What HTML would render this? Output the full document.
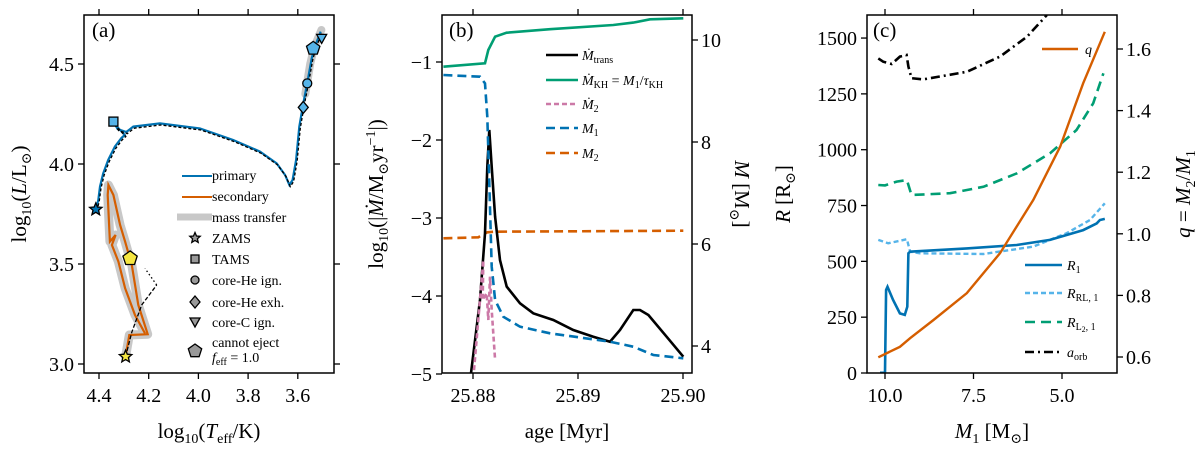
<!DOCTYPE html>
<html><head><meta charset="utf-8"><style>
body{margin:0;background:#fff}
svg{display:block;font-family:"Liberation Serif","DejaVu Serif",serif}
.tk{font-size:20px;fill:#000}
.lab{font-size:21px;fill:#000}
.lg{font-size:14px;fill:#000}
</style></head><body>
<svg id="fig" width="1200" height="450" viewBox="0 0 1200 450" xmlns="http://www.w3.org/2000/svg">
<g id="pa"></g>
<g id="pb"></g>
<g id="pc"></g>
</svg>
<script>
// ---------- Panel (a) data ----------
const priT=[4.413,4.403,4.396,4.383,4.363,4.336,4.31,4.296,4.33,4.342,4.325,4.29,4.262,4.155,3.994,3.86,3.752,3.685,3.651,3.634,3.621,3.607,3.594,3.578,3.562,3.544,3.531,3.508];
const priL=[3.773,3.82,3.887,3.953,4.02,4.087,4.13,4.145,4.19,4.212,4.175,4.16,4.187,4.203,4.178,4.12,4.062,4.003,3.945,3.895,3.92,4.02,4.187,4.303,4.403,4.528,4.587,4.662];
const secT=[4.293,4.278,4.204,4.242,4.268,4.295,4.315,4.342,4.362,4.365,4.356,4.333,4.348,4.322,4.295,4.255,4.215];
const secL=[3.037,3.145,3.149,3.295,3.495,3.612,3.695,3.845,3.895,3.845,3.612,3.645,3.595,3.512,3.379,3.245,3.153];
const cmpT=[4.293,4.268,4.228,4.168];
const cmpL=[3.037,3.159,3.295,3.395];
const cmpDotT=[4.168,4.215];
const cmpDotL=[3.395,3.478];
const mtT=[3.57,3.55,3.535,3.515,3.505];
const mtL=[4.35,4.5,4.58,4.64,4.67];
const aXTicks=[4.4,4.2,4.0,3.8,3.6];
const aYTicks=[3.0,3.5,4.0,4.5];
// ---------- Panel (b) data ----------
const khAge=[25.87718,25.88114,25.88146,25.8821,25.88321,25.88733,25.89336,25.89527,25.89686,25.90003];
const khVal=[-1.06,-1.017,-0.846,-0.676,-0.624,-0.58,-0.526,-0.495,-0.453,-0.44];
const trAge=[25.87981,25.88067,25.88114,25.88136,25.88155,25.88178,25.8821,25.88257,25.88321,25.88448,25.88574,25.88765,25.88955,25.89146,25.89305,25.894,25.89527,25.8959,25.8967,25.89844,25.90003];
const trVal=[-4.99,-4.05,-3.196,-2.342,-1.87,-2.342,-2.983,-3.54,-3.88,-4.094,-4.222,-4.308,-4.436,-4.522,-4.586,-4.436,-4.18,-4.18,-4.244,-4.522,-4.778];
const m2dAge=[25.8801,25.88067,25.88098,25.88092,25.8813,25.88146,25.88162,25.88178,25.8821];
const m2dVal=[-4.95,-4.05,-3.54,-4.05,-3.966,-4.308,-3.752,-4.18,-4.82];
const m1Age=[25.87718,25.88067,25.88114,25.88136,25.88155,25.88178,25.8821,25.88289,25.88448,25.88733,25.89305,25.89527,25.89717,25.90003];
const m1Val=[9.314,9.28,9.15,8.496,7.19,5.555,4.902,4.575,4.378,4.249,4.085,3.986,3.824,3.758];
const m2Age=[25.87718,25.8805,25.88136,25.8821,25.90003];
const m2Val=[6.112,6.131,6.229,6.241,6.261];
const bXTicks=[25.88,25.89,25.90];
const bYTicks=[-5,-4,-3,-2,-1];
const bY2Ticks=[4,6,8,10];
// ---------- Panel (c) data ----------
const r1M=[10.14,10.0,9.97,9.93,9.77,9.58,9.44,9.37,9.34,9.29,7.69,6.28,5.34,4.4,4.02,3.93,3.79];
const r1R=[1,1,372,386,327,267,260,297,536,543,558,573,596,640,670,685,690];
const rlM=[10.19,9.91,9.38,9.29,9.01,7.22,5.81,4.87,4.21,3.79];
const rlR=[596,581,599,543,536,533,566,626,685,760];
const l2M=[10.19,10.0,9.67,9.38,9.25,8.16,7.22,6.28,5.34,4.59,4.12,3.83];
const l2R=[842,840,857,864,797,805,834,894,984,1088,1208,1342];
const aoM=[10.19,10.05,9.81,9.58,9.39,9.34,9.25,8.92,7.69,6.75,5.99,5.43];
const aoR=[1409,1394,1384,1417,1424,1372,1320,1315,1349,1417,1506,1603];
const qM=[10.19,9.58,9.29,8.63,7.69,6.75,5.81,5.05,4.4,3.79];
const qV=[0.599,0.633,0.661,0.72,0.807,0.937,1.11,1.283,1.489,1.656];
const cXTicks=[10.0,7.5,5.0];
const cYTicks=[0,250,500,750,1000,1250,1500];
const cY2Ticks=[0.6,0.8,1.0,1.2,1.4,1.6];

const NS='http://www.w3.org/2000/svg';
function mk(parent,tag,attrs){const e=document.createElementNS(NS,tag);for(const k in attrs)e.setAttribute(k,attrs[k]);parent.appendChild(e);return e;}
function pathD(xs,ys,sx,sy){return xs.map((v,i)=>(i?'L':'M')+sx(v).toFixed(1)+','+sy(ys[i]).toFixed(1)).join('');}
function txt(parent,x,y,s,cls,anchor,extra){const t=mk(parent,'text',Object.assign({x:x,y:y,class:cls,'text-anchor':anchor||'middle'},extra||{}));t.innerHTML=s;return t;}

// scales
const ax=t=>99+(4.4-t)/0.2*49.7, ay=l=>364-(l-3.0)*200;
const bx=a=>473+(a-25.88)*10500, by=v=>374-(v+5)*78, by2=m=>40+(10-m)*51;
const cx=m=>885+(10-m)*35.4, cy=r=>373-r*0.2233, cy2=q=>357-(q-0.6)*308;

function frame(g,x0,x1,y0,y1){
  const r=mk(g,'rect',{x:x0,y:y0,width:x1-x0,height:y1-y0,fill:'none',stroke:'#000','stroke-width':1.5});
  
  
}
// ---------- Panel A ----------
(function(){
  const g=document.getElementById('pa');
  const cp=mk(g,'clipPath',{id:'clipa'});mk(cp,'rect',{x:84,y:15,width:250,height:358});
  const d=mk(g,'g',{'clip-path':'url(#clipa)'});
  let p;
  p=mk(d,'path',{d:pathD(secT,secL,ax,ay),fill:'none',stroke:'#c8c8c8','stroke-width':9,'stroke-linejoin':'round','stroke-linecap':'round'});
  
  p=mk(d,'path',{d:pathD(mtT,mtL,ax,ay),fill:'none',stroke:'#c8c8c8','stroke-width':8,'stroke-linecap':'round'});
  
  p=mk(d,'path',{d:pathD(priT,priL,ax,ay),fill:'none',stroke:'#0072b2','stroke-width':2.2});
  
  p=mk(d,'path',{d:pathD(priT.map(v=>v-0.004),priL.map(v=>v-0.008),ax,ay),fill:'none',stroke:'#000','stroke-width':1.3,'stroke-dasharray':'3,2'});
  
  p=mk(d,'path',{d:pathD(secT,secL,ax,ay),fill:'none',stroke:'#d55e00','stroke-width':2.2});
  
  p=mk(d,'path',{d:pathD(cmpT,cmpL,ax,ay),fill:'none',stroke:'#000','stroke-width':1.3,'stroke-dasharray':'4,2'});
  
  p=mk(d,'path',{d:pathD(cmpDotT,cmpDotL,ax,ay),fill:'none',stroke:'#000','stroke-width':1.3,'stroke-dasharray':'1.5,2.5'});
  
  // markers
  function star(x,y,r,fill,name){let s='';for(let i=0;i<10;i++){const a=-Math.PI/2+i*Math.PI/5,rr=i%2?r*0.45:r;s+=(i?'L':'M')+(x+rr*Math.cos(a)).toFixed(1)+','+(y+rr*Math.sin(a)).toFixed(1);}const e=mk(g,'path',{d:s+'Z',fill:fill,stroke:'#000','stroke-width':1.3});}
  function pent(x,y,r,fill,name){let s='';for(let i=0;i<5;i++){const a=-Math.PI/2+i*2*Math.PI/5;s+=(i?'L':'M')+(x+r*Math.cos(a)).toFixed(1)+','+(y+r*Math.sin(a)).toFixed(1);}const e=mk(g,'path',{d:s+'Z',fill:fill,stroke:'#000','stroke-width':1.3});}
  star(ax(4.413),ay(3.773),6.5,'#0072b2','primary-zams-marker');
  star(ax(4.293),ay(3.037),6.5,'#f5e642','secondary-zams-marker');
  let e=mk(g,'rect',{x:ax(4.342)-4.5,y:ay(4.212)-4.5,width:9,height:9,fill:'#56b4e9',stroke:'#000','stroke-width':1.3});
  e=mk(g,'circle',{cx:ax(3.562),cy:ay(4.403),r:4.5,fill:'#56b4e9',stroke:'#000','stroke-width':1.3});
  e=mk(g,'path',{d:`M${ax(3.578)},${ay(4.283)-6}l5,6l-5,6l-5,-6Z`,fill:'#56b4e9',stroke:'#000','stroke-width':1.3});
  e=mk(g,'path',{d:`M${ax(3.504)-5},${ay(4.628)-4}l10,0l-5,9Z`,fill:'#56b4e9',stroke:'#000','stroke-width':1.3});
  pent(ax(3.538),ay(4.578),7,'#56b4e9','primary-cannot-eject-marker');
  pent(ax(4.275),ay(3.528),7.5,'#f5e642','secondary-cannot-eject-marker');
  frame(g,84,334,15,373);
  aXTicks.forEach(v=>{const x=ax(v);mk(g,'line',{x1:x,x2:x,y1:373,y2:379,stroke:'#000','stroke-width':1.3});mk(g,'line',{x1:x,x2:x,y1:15,y2:9,stroke:'#000','stroke-width':1.3});const t=txt(g,x,402,v.toFixed(1),'tk');});
  aYTicks.forEach(v=>{const y=ay(v);mk(g,'line',{x1:84,x2:78,y1:y,y2:y,stroke:'#000','stroke-width':1.3});mk(g,'line',{x1:334,x2:340,y1:y,y2:y,stroke:'#000','stroke-width':1.3});const t=txt(g,74,y+7,v.toFixed(1),'tk','end');});
  let t=txt(g,209,438,'log<tspan font-size="14" dy="5">10</tspan><tspan dy="-5">(</tspan><tspan font-style="italic">T</tspan><tspan font-size="14" dy="5">eff</tspan><tspan dy="-5">/K)</tspan>','lab');
  t=txt(g,0,0,'log<tspan font-size="14" dy="5">10</tspan><tspan dy="-5">(</tspan><tspan font-style="italic">L</tspan>/L<tspan font-size="14" dy="5">⊙</tspan><tspan dy="-5">)</tspan>','lab','middle',{transform:'translate(26,194) rotate(-90)'});
  t=txt(g,92,37,'(a)','lab','start');
  // legend
  const L=mk(g,'g',{});
  mk(L,'line',{x1:182,x2:212,y1:176,y2:176,stroke:'#0072b2','stroke-width':2});txt(L,212,180,'primary','lg','start');
  mk(L,'line',{x1:182,x2:212,y1:197,y2:197,stroke:'#d55e00','stroke-width':2});txt(L,212,201,'secondary','lg','start');
  mk(L,'line',{x1:177,x2:212,y1:217,y2:217,stroke:'#c8c8c8','stroke-width':7});txt(L,212,222,'mass transfer','lg','start');
  const rows=[['ZAMS',238],['TAMS',259],['core-He ign.',280],['core-He exh.',302],['core-C ign.',322],['cannot eject',342]];
  rows.forEach(r=>txt(L,212,r[1]+5,r[0],'lg','start'));
  txt(L,212,362,'<tspan font-style="italic">f</tspan><tspan font-size="10" dy="3">eff</tspan><tspan dy="-3"> = 1.0</tspan>','lg','start');
  const mx=195;
  let s='';for(let i=0;i<10;i++){const a=-Math.PI/2+i*Math.PI/5,rr=i%2?2.5:5.5;s+=(i?'L':'M')+(mx+rr*Math.cos(a)).toFixed(1)+','+(238+rr*Math.sin(a)).toFixed(1);}mk(L,'path',{d:s+'Z',fill:'#999',stroke:'#000','stroke-width':1.3});
  mk(L,'rect',{x:mx-4,y:255,width:8,height:8,fill:'#999',stroke:'#000','stroke-width':1.3});
  mk(L,'circle',{cx:mx,cy:280,r:4,fill:'#999',stroke:'#000','stroke-width':1.3});
  mk(L,'path',{d:`M${mx},296l5,6l-5,6l-5,-6Z`,fill:'#999',stroke:'#000','stroke-width':1.3});
  mk(L,'path',{d:`M${mx-5},318l10,0l-5,9Z`,fill:'#999',stroke:'#000','stroke-width':1.3});
  s='';for(let i=0;i<5;i++){const a=-Math.PI/2+i*2*Math.PI/5;s+=(i?'L':'M')+(mx+7*Math.cos(a)).toFixed(1)+','+(351+7*Math.sin(a)).toFixed(1);}mk(L,'path',{d:s+'Z',fill:'#999',stroke:'#000','stroke-width':1.3});
})();
// ---------- Panel B ----------
(function(){
  const g=document.getElementById('pb');
  const cp=mk(g,'clipPath',{id:'clipb'});mk(cp,'rect',{x:442,y:15,width:250,height:358});
  const d=mk(g,'g',{'clip-path':'url(#clipb)'});
  let p;
  p=mk(d,'path',{d:pathD(khAge,khVal,bx,by),fill:'none',stroke:'#009e73','stroke-width':2.6});
  p=mk(d,'path',{d:pathD(m2Age,m2Val,bx,by2),fill:'none',stroke:'#d55e00','stroke-width':2.6,'stroke-dasharray':'9,5'});
  p=mk(d,'path',{d:pathD(trAge,trVal,bx,by),fill:'none',stroke:'#000','stroke-width':2.6});
  p=mk(d,'path',{d:pathD(m1Age,m1Val,bx,by2),fill:'none',stroke:'#0072b2','stroke-width':2.6,'stroke-dasharray':'9,5'});
  p=mk(d,'path',{d:pathD(m2dAge,m2dVal,bx,by),fill:'none',stroke:'#cc79a7','stroke-width':2.6,'stroke-dasharray':'5,3'});
  frame(g,442,692,15,373);
  bXTicks.forEach(v=>{const x=bx(v);mk(g,'line',{x1:x,x2:x,y1:373,y2:379,stroke:'#000','stroke-width':1.3});mk(g,'line',{x1:x,x2:x,y1:15,y2:9,stroke:'#000','stroke-width':1.3});const t=txt(g,x,402,v.toFixed(2),'tk');});
  bYTicks.forEach(v=>{const y=by(v);mk(g,'line',{x1:442,x2:436,y1:y,y2:y,stroke:'#000','stroke-width':1.3});const t=txt(g,432,y+7,'−'+Math.abs(v),'tk','end');});
  bY2Ticks.forEach(v=>{const y=by2(v);mk(g,'line',{x1:692,x2:698,y1:y,y2:y,stroke:'#000','stroke-width':1.3});const t=txt(g,701,y+7,String(v),'tk','start');});
  let t=txt(g,567,438,'age [Myr]','lab');
  t=txt(g,0,0,'log<tspan font-size="14" dy="5">10</tspan><tspan dy="-5">(|</tspan><tspan font-style="italic">Ṁ</tspan>/M<tspan font-size="14" dy="5">⊙</tspan><tspan dy="-5">yr</tspan><tspan font-size="14" dy="-8">−1</tspan><tspan dy="8">|)</tspan>','lab','middle',{transform:'translate(383,194) rotate(-90)'});
  t=txt(g,0,0,'<tspan font-style="italic">M</tspan> [M<tspan font-size="14" dy="5">⊙</tspan><tspan dy="-5">]</tspan>','lab','middle',{transform:'translate(735,194) rotate(90)'});
  t=txt(g,449,37,'(b)','lab','start');
  const L=mk(g,'g',{});
  const lr=[['#000','', '<tspan font-style="italic">Ṁ</tspan><tspan font-size="10" dy="3">trans</tspan>',55],
    ['#009e73','','<tspan font-style="italic">Ṁ</tspan><tspan font-size="10" dy="3">KH</tspan><tspan dy="-3"> = </tspan><tspan font-style="italic">M</tspan><tspan font-size="10" dy="3">1</tspan><tspan dy="-3">/</tspan><tspan font-style="italic">τ</tspan><tspan font-size="10" dy="3">KH</tspan>',80],
    ['#cc79a7','5,3','<tspan font-style="italic">Ṁ</tspan><tspan font-size="10" dy="3">2</tspan>',104],
    ['#0072b2','9,5','<tspan font-style="italic">M</tspan><tspan font-size="10" dy="3">1</tspan>',128],
    ['#d55e00','9,5','<tspan font-style="italic">M</tspan><tspan font-size="10" dy="3">2</tspan>',153]];
  lr.forEach(r=>{mk(L,'line',{x1:546,x2:578,y1:r[3],y2:r[3],stroke:r[0],'stroke-width':2.6,'stroke-dasharray':r[1]||'none'});txt(L,582,r[3]+5,r[2],'lg','start');});
})();
// ---------- Panel C ----------
(function(){
  const g=document.getElementById('pc');
  const cp=mk(g,'clipPath',{id:'clipc'});mk(cp,'rect',{x:867,y:15,width:250,height:358});
  const d=mk(g,'g',{'clip-path':'url(#clipc)'});
  let p;
  p=mk(d,'path',{d:pathD(aoM,aoR,cx,cy),fill:'none',stroke:'#000','stroke-width':2.6,'stroke-dasharray':'9,4,2,4'});
  p=mk(d,'path',{d:pathD(l2M,l2R,cx,cy),fill:'none',stroke:'#009e73','stroke-width':2.6,'stroke-dasharray':'10,6'});
  p=mk(d,'path',{d:pathD(rlM,rlR,cx,cy),fill:'none',stroke:'#56b4e9','stroke-width':2.4,'stroke-dasharray':'5,3'});
  p=mk(d,'path',{d:pathD(r1M,r1R,cx,cy),fill:'none',stroke:'#0072b2','stroke-width':2.6});
  p=mk(d,'path',{d:pathD(qM,qV,cx,cy2),fill:'none',stroke:'#d55e00','stroke-width':2.4});
  frame(g,867,1117,15,373);
  cXTicks.forEach(v=>{const x=cx(v);mk(g,'line',{x1:x,x2:x,y1:373,y2:379,stroke:'#000','stroke-width':1.3});mk(g,'line',{x1:x,x2:x,y1:15,y2:9,stroke:'#000','stroke-width':1.3});const t=txt(g,x,402,v.toFixed(1),'tk');});
  cYTicks.forEach(v=>{const y=cy(v);mk(g,'line',{x1:867,x2:861,y1:y,y2:y,stroke:'#000','stroke-width':1.3});const t=txt(g,857,y+7,String(v),'tk','end');});
  cY2Ticks.forEach(v=>{const y=cy2(v);mk(g,'line',{x1:1117,x2:1123,y1:y,y2:y,stroke:'#000','stroke-width':1.3});const t=txt(g,1126,y+7,v.toFixed(1),'tk','start');});
  let t=txt(g,992,438,'<tspan font-style="italic">M</tspan><tspan font-size="14" dy="5">1</tspan><tspan dy="-5"> [M</tspan><tspan font-size="14" dy="5">⊙</tspan><tspan dy="-5">]</tspan>','lab');
  t=txt(g,0,0,'<tspan font-style="italic">R</tspan> [R<tspan font-size="14" dy="5">⊙</tspan><tspan dy="-5">]</tspan>','lab','middle',{transform:'translate(790,194) rotate(-90)'});
  t=txt(g,0,0,'<tspan font-style="italic">q</tspan> = <tspan font-style="italic">M</tspan><tspan font-size="14" dy="5">2</tspan><tspan dy="-5">/</tspan><tspan font-style="italic">M</tspan><tspan font-size="14" dy="5">1</tspan>','lab','middle',{transform:'translate(1190,194) rotate(-90)'});
  t=txt(g,873,37,'(c)','lab','start');
  const L=mk(g,'g',{});
  mk(L,'line',{x1:1042,x2:1078,y1:49,y2:49,stroke:'#d55e00','stroke-width':2.4});txt(L,1085,54,'q','lg','start',{'font-style':'italic'});
  const lr=[['#0072b2','','<tspan font-style="italic">R</tspan><tspan font-size="10" dy="3">1</tspan>',265],
    ['#56b4e9','5,3','<tspan font-style="italic">R</tspan><tspan font-size="10" dy="3">RL, 1</tspan>',293],
    ['#009e73','10,6','<tspan font-style="italic">R</tspan><tspan font-size="10" dy="3">L</tspan><tspan font-size="8" dy="2">2</tspan><tspan font-size="10" dy="-2">, 1</tspan>',322],
    ['#000','9,4,2,4','<tspan font-style="italic">a</tspan><tspan font-size="10" dy="3">orb</tspan>',352]];
  lr.forEach(r=>{mk(L,'line',{x1:1025,x2:1062,y1:r[3],y2:r[3],stroke:r[0],'stroke-width':2.6,'stroke-dasharray':r[1]||'none'});txt(L,1067,r[3]+5,r[2],'lg','start');});
})();
</script>
</body></html>
